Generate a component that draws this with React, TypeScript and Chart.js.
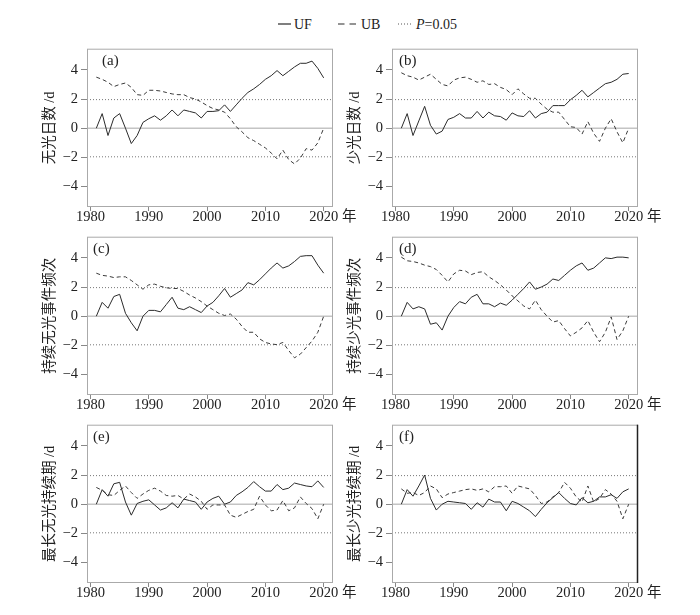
import React, { useEffect, useRef } from "react";
import { Chart, registerables } from "chart.js";

Chart.register(...registerables);

const FAMILY = "'Liberation Serif', 'Noto Sans CJK SC', serif";

const YEARS = [
  1981, 1982, 1983, 1984, 1985, 1986, 1987, 1988, 1989, 1990,
  1991, 1992, 1993, 1994, 1995, 1996, 1997, 1998, 1999, 2000,
  2001, 2002, 2003, 2004, 2005, 2006, 2007, 2008, 2009, 2010,
  2011, 2012, 2013, 2014, 2015, 2016, 2017, 2018, 2019, 2020,
];
const X_TICKS = [1980, 1990, 2000, 2010, 2020];
const Y_TICKS = [-4, -2, 0, 2, 4];
const P_LEVEL = 1.96;
const X_MIN = 1979.4;
const X_MAX = 2021.6;
const Y_MIN = -5.4;
const Y_MAX = 5.45;

const UF_A = [0, 1.0, -0.5, 0.7, 1.0, 0, -1.05, -0.5, 0.4, 0.65, 0.85, 0.55, 0.85, 1.25, 0.85, 1.25, 1.15, 1.05, 0.7, 1.15, 1.15, 1.2, 1.6, 1.15, 1.6, 2.05, 2.45, 2.7, 3.0, 3.35, 3.6, 3.95, 3.6, 3.9, 4.2, 4.45, 4.45, 4.6, 4.1, 3.45];
const UB_A = [3.5, 3.35, 3.15, 2.85, 3.0, 3.1, 2.8, 2.3, 2.25, 2.6, 2.6, 2.55, 2.45, 2.35, 2.3, 2.3, 2.1, 2.0, 1.8, 1.55, 1.35, 1.25, 1.1, 0.65, 0.1, -0.25, -0.65, -0.85, -1.1, -1.35, -1.7, -2.1, -1.5, -2.15, -2.45, -2.05, -1.4, -1.5, -1.0, 0];
const UF_B = [0, 1.0, -0.5, 0.5, 1.5, 0.2, -0.4, -0.2, 0.6, 0.75, 1.0, 0.7, 0.7, 1.15, 0.7, 1.1, 0.85, 0.8, 0.55, 1.05, 0.85, 0.8, 1.2, 0.7, 1.0, 1.1, 1.55, 1.55, 1.55, 1.95, 2.25, 2.6, 2.15, 2.45, 2.75, 3.05, 3.15, 3.35, 3.7, 3.75];
const UB_B = [3.8, 3.6, 3.5, 3.3, 3.5, 3.7, 3.35, 3.0, 2.9, 3.3, 3.45, 3.5, 3.35, 3.15, 3.25, 3.0, 3.05, 2.8, 2.65, 2.3, 2.7, 2.35, 2.05, 2.05, 1.65, 1.3, 1.1, 1.1, 0.6, 0.1, 0.05, -0.4, 0.45, -0.35, -0.9, 0, 0.65, -0.25, -1.0, 0];
const UF_C = [0, 0.95, 0.55, 1.35, 1.5, 0.2, -0.45, -1.0, 0, 0.4, 0.4, 0.3, 0.8, 1.3, 0.55, 0.45, 0.65, 0.45, 0.25, 0.7, 0.95, 1.4, 1.9, 1.3, 1.55, 1.8, 2.3, 2.15, 2.5, 2.9, 3.3, 3.65, 3.3, 3.45, 3.75, 4.1, 4.15, 4.15, 3.5, 2.95];
const UB_C = [2.95, 2.8, 2.75, 2.65, 2.7, 2.7, 2.45, 2.15, 1.85, 2.15, 2.2, 2.05, 1.95, 1.9, 1.9, 1.7, 1.45, 1.25, 1.0, 0.7, 0.45, 0.2, 0.05, 0.15, -0.2, -0.7, -1.1, -1.1, -1.55, -1.8, -1.9, -1.95, -1.8, -2.35, -2.85, -2.6, -2.15, -1.7, -1.1, 0];
const UF_D = [0, 0.95, 0.5, 0.65, 0.5, -0.55, -0.45, -0.95, 0, 0.6, 1.0, 0.85, 1.3, 1.5, 0.85, 0.85, 0.65, 0.9, 0.75, 1.1, 1.5, 1.9, 2.35, 1.85, 2.0, 2.2, 2.55, 2.45, 2.8, 3.15, 3.45, 3.65, 3.15, 3.3, 3.65, 4.0, 3.95, 4.05, 4.05, 4.0];
const UB_D = [4.05, 3.8, 3.75, 3.65, 3.5, 3.4, 3.2, 2.8, 2.35, 2.9, 3.15, 3.1, 2.85, 3.0, 3.05, 2.7, 2.45, 2.15, 1.8, 1.4, 1.05, 0.7, 0.5, 1.1, 0.45, 0, -0.4, -0.3, -0.85, -1.35, -1.1, -0.8, -0.3, -1.1, -1.75, -1.1, -0.05, -1.6, -1.0, 0];
const UF_E = [0, 1.0, 0.55, 1.4, 1.5, 0.15, -0.75, 0.05, 0.2, 0.3, -0.05, -0.4, -0.25, 0.1, -0.25, 0.35, 0.25, 0.15, -0.35, 0.15, 0.4, 0.55, 0.0, 0.15, 0.6, 0.85, 1.15, 1.55, 1.2, 0.9, 0.9, 1.35, 1.0, 1.1, 1.45, 1.35, 1.25, 1.2, 1.6, 1.15];
const UB_E = [1.15, 0.95, 0.65, 0.6, 0.95, 1.25, 0.8, 0.4, 0.7, 0.95, 1.1, 0.9, 0.6, 0.55, 0.6, 0.35, 0.7, 0.5, 0.2, -0.35, -0.05, -0.05, -0.05, -0.75, -0.9, -0.7, -0.5, -0.35, 0.55, -0.05, -0.45, -0.4, 0.25, -0.45, -0.25, 0.5, 0.05, -0.3, -1.0, 0];
const UF_F = [0, 1.0, 0.55, 1.25, 2.0, 0.4, -0.4, 0, 0.2, 0.15, 0.1, 0.05, -0.35, 0.1, -0.2, 0.35, 0.15, 0.15, -0.45, 0.2, 0.05, -0.2, -0.45, -0.85, -0.35, 0.1, 0.45, 0.8, 0.4, 0.05, -0.05, 0.45, 0.1, 0.2, 0.5, 0.5, 0.65, 0.4, 0.85, 1.05];
const UB_F = [1.05, 0.75, 0.8, 0.6, 0.8, 1.25, 1.05, 0.45, 0.7, 0.8, 0.9, 1.0, 1.05, 0.95, 1.05, 0.85, 1.2, 1.2, 1.25, 0.75, 1.25, 1.15, 1.05, 0.6, 0.05, 0.15, 0.5, 0.8, 1.5, 1.1, 0.5, 0.15, 1.25, 0.15, 0.4, 1.0, 0.7, 0.2, -1.0, 0];

const PANELS = [
  { label: "(a)", title: "无光日数 /d", uf: UF_A, ub: UB_A, areaLeft: 87, areaTop: 45, labelDx: 15, darkRight: false },
  { label: "(b)", title: "少光日数 /d", uf: UF_B, ub: UB_B, areaLeft: 392, areaTop: 45, labelDx: 7, darkRight: false },
  { label: "(c)", title: "持续无光事件频次", uf: UF_C, ub: UB_C, areaLeft: 87, areaTop: 233, labelDx: 6, darkRight: false },
  { label: "(d)", title: "持续少光事件频次", uf: UF_D, ub: UB_D, areaLeft: 392, areaTop: 233, labelDx: 7, darkRight: false },
  { label: "(e)", title: "最长无光持续期 /d", uf: UF_E, ub: UB_E, areaLeft: 87, areaTop: 421, labelDx: 6, darkRight: false },
  { label: "(f)", title: "最长少光持续期 /d", uf: UF_F, ub: UB_F, areaLeft: 392, areaTop: 421, labelDx: 7, darkRight: true },
];

const Y_AXIS_W = 50;
const X_AXIS_H = 26;
const PAD_TOP = 8;
const PAD_RIGHT = 30;
const AREA_W = 246;
const AREA_H = 162;
const TICK_FONT = 14.5;
const X_TICK_LEN = 4;
const X_TICK_PAD = -3;

const framePlugin = {
  id: "frame",
  afterDraw(chart: any, _args: any, opts: any) {
    const { ctx, chartArea: a } = chart;
    ctx.save();
    ctx.strokeStyle = "#aaaaaa";
    ctx.lineWidth = 1;
    ctx.strokeRect(a.left + 0.5, a.top + 0.5, a.right - a.left - 1, a.bottom - a.top - 1);
    if (opts.darkRight) {
      ctx.strokeStyle = "#222";
      ctx.lineWidth = 1.5;
      ctx.beginPath();
      ctx.moveTo(a.right - 0.5, a.top);
      ctx.lineTo(a.right - 0.5, a.bottom);
      ctx.stroke();
    }
    ctx.fillStyle = "#222";
    ctx.font = `15px ${FAMILY}`;
    ctx.textAlign = "left";
    ctx.textBaseline = "top";
    ctx.fillText(opts.label, a.left + opts.labelDx, a.top + 5);
    const xs = chart.scales.x;
    ctx.font = `${TICK_FONT}px ${FAMILY}`;
    ctx.textBaseline = "middle";
    ctx.fillText("年", a.right + 9, xs.top + X_TICK_LEN + X_TICK_PAD + (TICK_FONT * 1.2) / 2);
    ctx.restore();
  },
};

function Panel({ cfg }: { cfg: any }) {
  const ref = useRef<HTMLCanvasElement>(null);
  useEffect(() => {
    if (!ref.current) return;
    const line = (vals: number[]) => YEARS.map((yr, i) => ({ x: yr, y: vals[i] }));
    const flat = (v: number) => [
      { x: X_MIN, y: v },
      { x: X_MAX, y: v },
    ];
    const chart = new Chart(ref.current, {
      type: "line",
      data: {
        datasets: [
          { label: "UF", data: line(cfg.uf), borderColor: "#2b2b2b", borderWidth: 1, pointRadius: 0 },
          { label: "UB", data: line(cfg.ub), borderColor: "#3a3a3a", borderWidth: 1, borderDash: [4, 3], pointRadius: 0 },
          { label: "P+", data: flat(P_LEVEL), borderColor: "#777", borderWidth: 1, borderDash: [1, 2], pointRadius: 0 },
          { label: "P-", data: flat(-P_LEVEL), borderColor: "#777", borderWidth: 1, borderDash: [1, 2], pointRadius: 0 },
          { label: "zero", data: flat(0), borderColor: "#c4c4c4", borderWidth: 1.5, pointRadius: 0 },
        ],
      },
      options: {
        animation: false,
        responsive: true,
        maintainAspectRatio: false,
        events: [],
        layout: { padding: { top: PAD_TOP, right: PAD_RIGHT, left: 0, bottom: 0 } },
        plugins: {
          legend: { display: false },
          tooltip: { enabled: false },
          frame: { label: cfg.label, labelDx: cfg.labelDx, darkRight: cfg.darkRight },
        } as any,
        scales: {
          x: {
            type: "linear",
            min: X_MIN,
            max: X_MAX,
            afterBuildTicks: (s: any) => {
              s.ticks = X_TICKS.map((v) => ({ value: v }));
            },
            afterFit: (s: any) => {
              s.height = X_AXIS_H;
            },
            ticks: {
              font: { family: FAMILY, size: TICK_FONT },
              color: "#222",
              padding: X_TICK_PAD,
              maxRotation: 0,
              autoSkip: false,
              callback: (v: any) => String(v),
            },
            grid: { drawOnChartArea: false, drawTicks: true, tickLength: X_TICK_LEN, color: "#888" },
            border: { display: false },
          },
          y: {
            type: "linear",
            min: Y_MIN,
            max: Y_MAX,
            afterBuildTicks: (s: any) => {
              s.ticks = Y_TICKS.map((v) => ({ value: v }));
            },
            afterFit: (s: any) => {
              s.width = Y_AXIS_W;
            },
            ticks: {
              font: { family: FAMILY, size: TICK_FONT },
              color: "#222",
              padding: 3,
              callback: (v: any) => String(v).replace("-", "\u2212"),
            },
            grid: { drawOnChartArea: false, drawTicks: true, tickLength: 6, color: "#888" },
            border: { display: false },
            title: {
              display: true,
              text: cfg.title,
              font: { family: FAMILY, size: 14.5 },
              color: "#222",
              padding: { top: 4, bottom: 4 },
            },
          },
        },
      },
      plugins: [framePlugin],
    } as any);
    return () => chart.destroy();
  }, [cfg]);

  const w = Y_AXIS_W + AREA_W + PAD_RIGHT;
  const h = PAD_TOP + AREA_H + X_AXIS_H;
  return (
    <div
      style={{
        position: "absolute",
        left: cfg.areaLeft - Y_AXIS_W,
        top: cfg.areaTop - PAD_TOP,
        width: w,
        height: h,
      }}
    >
      <canvas ref={ref} />
    </div>
  );
}

function Legend() {
  const ts = { fontFamily: FAMILY, fontSize: 14, fill: "#222" } as any;
  return (
    <svg width={700} height={40} style={{ position: "absolute", left: 0, top: 0 }}>
      <line x1={278} x2={291} y1={24} y2={24} stroke="#2b2b2b" strokeWidth={1.2} />
      <text x={294} y={24} dominantBaseline="central" style={ts}>UF</text>
      <line x1={338} x2={357} y1={24} y2={24} stroke="#2b2b2b" strokeWidth={1.2} strokeDasharray="6.5,5" />
      <text x={361} y={24} dominantBaseline="central" style={ts}>UB</text>
      <line x1={398} x2={412} y1={24} y2={24} stroke="#555" strokeWidth={1} strokeDasharray="1,2" />
      <text x={416} y={24} dominantBaseline="central" style={ts}>
        <tspan fontStyle="italic">P</tspan>=0.05
      </text>
    </svg>
  );
}

export default function App() {
  return (
    <div style={{ position: "absolute", left: 0, top: 0, width: 700, height: 615, background: "#fff" }}>
      <Legend />
      {PANELS.map((p) => (
        <Panel key={p.label} cfg={p} />
      ))}
    </div>
  );
}
